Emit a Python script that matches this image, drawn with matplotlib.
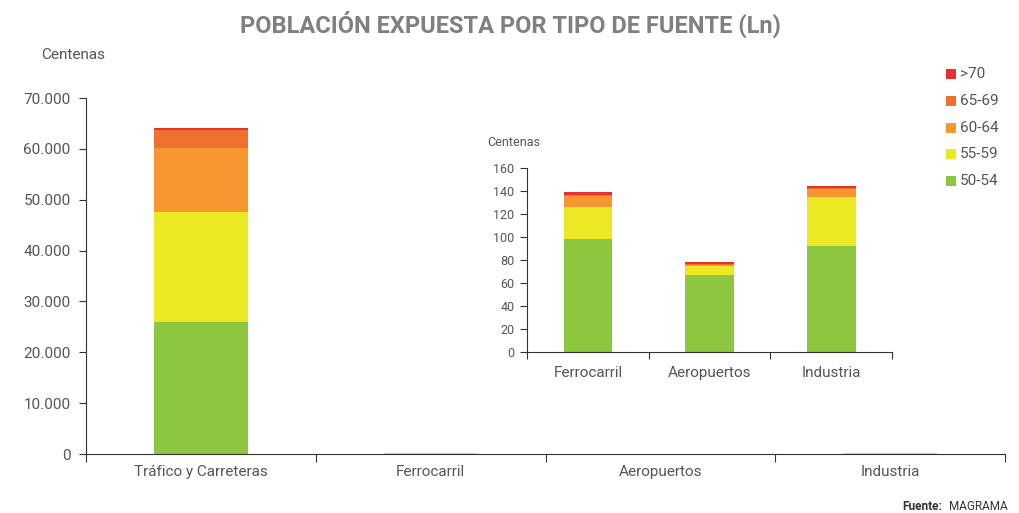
import matplotlib.pyplot as plt
import matplotlib
from matplotlib.ticker import FuncFormatter
from matplotlib.patches import Rectangle
matplotlib.rcParams['font.family'] = ['Roboto', 'DejaVu Sans']

# ---------- datos ----------
categorias = ['Tráfico y Carreteras', 'Ferrocarril', 'Aeropuertos', 'Industria']
rangos = ['50-54', '55-59', '60-64', '65-69', '>70']
colores = ['#8dc63f', '#ece824', '#f7962f', '#f07030', '#e8312f']

# valores en centenas
v_50_54 = [25950, 98, 67, 92]
v_55_59 = [21630, 28, 8, 43]
v_60_64 = [12585, 10, 0.8, 6.5]
v_65_69 = [3540, 0.8, 0.7, 1.5]
v_70 = [400, 2.2, 1.5, 1.2]
series = [v_50_54, v_55_59, v_60_64, v_65_69, v_70]

gris = '#555555'
W, H = 1019, 513
fig = plt.figure(figsize=(W / 100, H / 100), dpi=100)

# ---------- grafico principal ----------
ax = fig.add_axes([86 / W, (H - 454) / H, 919 / W, 356 / H])
x = list(range(len(categorias)))
base = [0] * len(categorias)
for vals, col in zip(series, colores):
    ax.bar(x, vals, bottom=base, width=0.41, color=col, linewidth=0)
    base = [b + v for b, v in zip(base, vals)]
ax.set_xlim(-0.5, 3.5)
ax.set_ylim(0, 70000)
ax.set_yticks(range(0, 70001, 10000))
ax.yaxis.set_major_formatter(FuncFormatter(lambda v, p: f'{int(v):,}'.replace(',', '.')))
ax.set_xticks([-0.5, 0.5, 1.5, 2.5, 3.5])
ax.set_xticklabels([])
ax.set_xticks(x, minor=True)
ax.set_xticklabels(categorias, minor=True, fontsize=11, color=gris)
ax.tick_params(axis='x', which='minor', length=0, pad=8)
ax.tick_params(axis='x', which='major', length=6, color='#333333')
ax.tick_params(axis='y', length=5, color='#333333', labelsize=11, labelcolor=gris, pad=6)
for s in ['top', 'right']:
    ax.spines[s].set_visible(False)
for s in ['left', 'bottom']:
    ax.spines[s].set_color('#333333')
fig.text(41 / W, 1 - 55 / H, 'Centenas', fontsize=11, color=gris, va='center')

# ---------- grafico insertado ----------
ax2 = fig.add_axes([527 / W, (H - 352) / H, 365 / W, 184 / H])
x2 = [0, 1, 2]
base = [0, 0, 0]
for vals, col in zip(series, colores):
    ax2.bar(x2, vals[1:], bottom=base, width=0.4, color=col, linewidth=0)
    base = [b + v for b, v in zip(base, vals[1:])]
ax2.set_xlim(-0.5, 2.5)
ax2.set_ylim(0, 160)
ax2.set_yticks(range(0, 161, 20))
ax2.set_xticks([-0.5, 0.5, 1.5, 2.5])
ax2.set_xticklabels([])
ax2.set_xticks(x2, minor=True)
ax2.set_xticklabels(categorias[1:], minor=True, fontsize=11, color=gris)
ax2.tick_params(axis='x', which='minor', length=0, pad=10)
ax2.tick_params(axis='x', which='major', length=5, color='#333333')
ax2.tick_params(axis='y', length=5, color='#333333', labelsize=9, labelcolor=gris, pad=4)
ax2.patch.set_alpha(0)
for s in ['top', 'right']:
    ax2.spines[s].set_visible(False)
for s in ['left', 'bottom']:
    ax2.spines[s].set_color('#333333')
fig.text(487 / W, 1 - 142 / H, 'Centenas', fontsize=9, color=gris, va='center')

# ---------- leyenda ----------
for i, (r, col) in enumerate(zip(rangos[::-1], colores[::-1])):
    yc = 74 + i * 26.8
    fig.patches.append(Rectangle((946 / W, 1 - (yc + 5) / H), 10 / W, 10 / H,
                                 transform=fig.transFigure, color=col, linewidth=0))
    fig.text(960 / W, 1 - yc / H, r, fontsize=11, color=gris, va='center')

# ---------- titulos ----------
fig.text(510 / W, 1 - 24 / H, 'POBLACIÓN EXPUESTA POR TIPO DE FUENTE (Ln)',
         fontsize=17, fontweight='bold', color='#808080', ha='center', va='center')
fig.text(1008 / W, 1 - 507 / H, 'MAGRAMA', fontsize=8.5, color='#333333',
         ha='right', va='center')
fig.text(942 / W, 1 - 507 / H, 'Fuente:', fontsize=8.5, fontweight='bold', color='#333333',
         ha='right', va='center')

fig.savefig('out.png', dpi=100)
